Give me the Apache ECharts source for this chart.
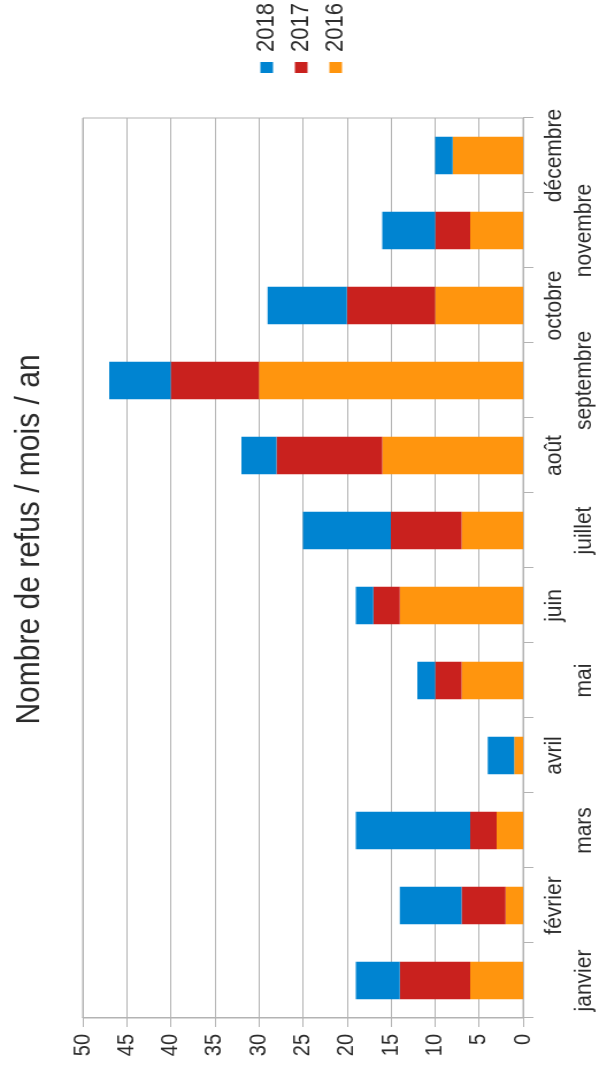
<!DOCTYPE html>
<html>
<head>
<meta charset="utf-8">
<script src="https://cdn.jsdelivr.net/npm/echarts@6/dist/echarts.min.js"></script>
<style>
  html, body { margin: 0; padding: 0; background: #fff; overflow: hidden; }
  #page { position: relative; width: 599px; height: 1079px; overflow: hidden; background: #fff; }
  /* The chart is laid out landscape and turned a quarter-turn for the portrait page */
  #chart {
    position: absolute; left: 0; top: 0;
    width: 1079px; height: 521px;
    transform-origin: 0 0;
    transform: translate(0, 1079px) scale(1.1497, 1) rotate(-90deg);
  }
</style>
</head>
<body>
<div id="page"><div id="chart"></div></div>
<script>
// Monthly refusals, stacked by year
const months = ['janvier', 'février', 'mars', 'avril', 'mai', 'juin',
                'juillet', 'août', 'septembre', 'octobre', 'novembre', 'décembre'];
const refus2016 = [6, 2, 3, 1, 7, 14, 7, 16, 30, 10, 6, 8];
const refus2017 = [8, 5, 3, 0, 3, 3, 8, 12, 10, 10, 4, 0];
const refus2018 = [5, 7, 13, 3, 2, 2, 10, 4, 7, 9, 6, 2];
const yearNames = ['2018', '2017', '2016'];
const valueTicks = [0, 5, 10, 15, 20, 25, 30, 35, 40, 45, 50];

const FONT = "'Liberation Sans', Arial, sans-serif";
const GRID = '#b3b3b3';
const TEXT = '#2b2b2b';

const chart = echarts.init(document.getElementById('chart'), null, { renderer: 'canvas' });

chart.setOption({
  animation: false,
  backgroundColor: '#ffffff',
  title: {
    text: 'Nombre de refus / mois / an',
    left: 'center',
    top: 11,
    padding: [0, 0, 0, 20],
    textStyle: { fontFamily: FONT, fontSize: 30, fontWeight: 'normal', color: TEXT }
  },
  legend: {
    data: yearNames,
    orient: 'vertical',
    left: 1001,
    top: 216,
    itemWidth: 11,
    itemHeight: 11,
    itemGap: 8,
    icon: 'rect',
    textStyle: { fontFamily: FONT, fontSize: 22, color: TEXT, padding: [0, 0, 0, 5] }
  },
  grid: {
    left: 61, right: 118, top: 72, bottom: 62,
    show: true, borderColor: GRID, borderWidth: 1, backgroundColor: 'transparent'
  },
  xAxis: {
    type: 'category',
    data: months,
    axisLine: { show: true, lineStyle: { color: GRID, width: 1 } },
    axisTick: { show: true, interval: 0, alignWithLabel: false, length: 9, lineStyle: { color: GRID } },
    axisLabel: {
      interval: 0,
      margin: 14,
      fontFamily: FONT,
      fontSize: 21,
      lineHeight: 26,
      color: TEXT,
      formatter: (v, i) => (i % 2 === 0 ? '\n' + v : v)
    },
    splitLine: { show: false }
  },
  yAxis: {
    type: 'value',
    min: valueTicks[0],
    max: valueTicks[valueTicks.length - 1],
    interval: 5,
    axisLine: { show: true, lineStyle: { color: GRID, width: 1 } },
    axisTick: { show: true, length: 9, lineStyle: { color: GRID } },
    axisLabel: { margin: 16, fontFamily: FONT, fontSize: 20, color: TEXT },
    splitLine: { show: true, lineStyle: { color: GRID, width: 1 } }
  },
  series: [
    { name: '2016', type: 'bar', stack: 'refus', data: refus2016, barCategoryGap: '50%',
      itemStyle: { color: '#ff950e' } },
    { name: '2017', type: 'bar', stack: 'refus', data: refus2017, barCategoryGap: '50%',
      itemStyle: { color: '#c9211e' } },
    { name: '2018', type: 'bar', stack: 'refus', data: refus2018, barCategoryGap: '50%',
      itemStyle: { color: '#0084d1' } }
  ]
});
</script>
</body>
</html>
